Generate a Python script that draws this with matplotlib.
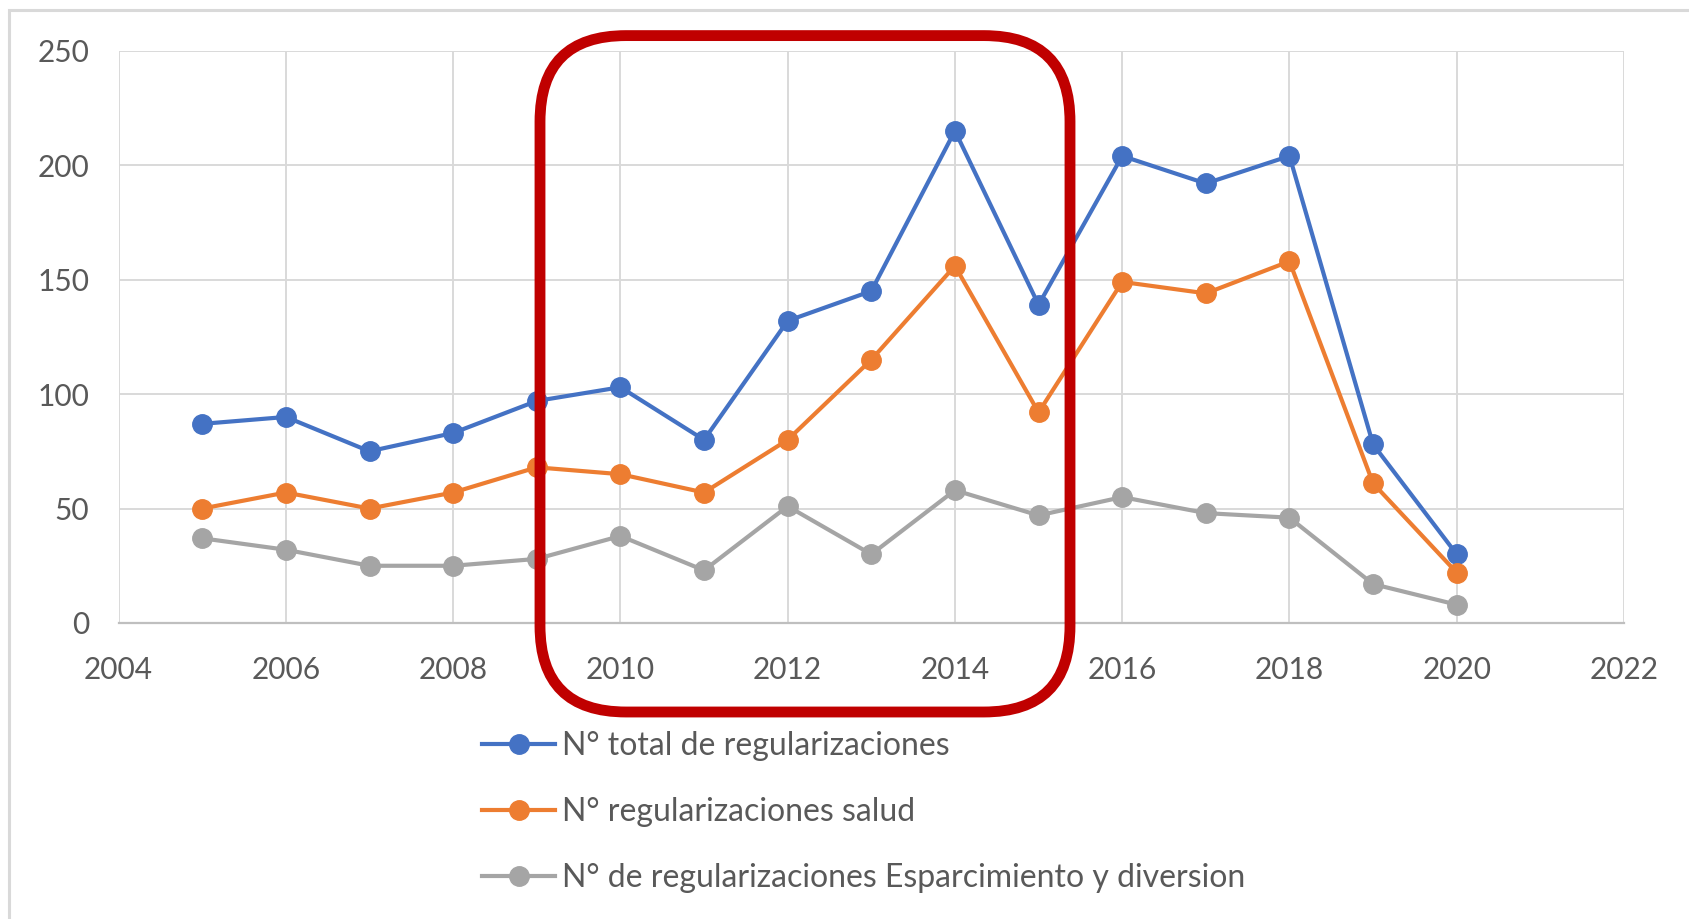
import matplotlib
matplotlib.use("Agg")
import matplotlib.pyplot as plt
from matplotlib.patches import FancyBboxPatch, Rectangle
from matplotlib.lines import Line2D

years = [2005, 2006, 2007, 2008, 2009, 2010, 2011, 2012, 2013, 2014, 2015, 2016, 2017, 2018, 2019, 2020]
total = [87, 90, 75, 83, 97, 103, 80, 132, 145, 215, 139, 204, 192, 204, 78, 30]
salud = [50, 57, 50, 57, 68, 65, 57, 80, 115, 156, 92, 149, 144, 158, 61, 22]
espar = [37, 32, 25, 25, 28, 38, 23, 51, 30, 58, 47, 55, 48, 46, 17, 8]
labels = ["N° total de regularizaciones", "N° regularizaciones salud",
          "N° de regularizaciones Esparcimiento y diversion"]
colors = ["#4472C4", "#ED7D31", "#A5A5A5"]
xticks = [2004, 2006, 2008, 2010, 2012, 2014, 2016, 2018, 2020, 2022]
yticks = [0, 50, 100, 150, 200, 250]

plt.rcParams['font.family'] = ['Lato', 'DejaVu Sans']
W, H = 1690, 919
fig = plt.figure(figsize=(W / 100, H / 100), dpi=100)
ax = fig.add_axes([118.6 / W, 1 - 623 / H, (1624 - 118.6) / W, (623 - 50.7) / H])

for ys, c in zip([total, salud, espar], colors):
    ax.plot(years, ys, color=c, lw=3.0, marker='o', ms=14, zorder=3)

ax.set_xlim(2004, 2022)
ax.set_ylim(0, 250)
ax.set_xticks(xticks)
ax.set_yticks(yticks)
ax.grid(True, color='#D9D9D9', lw=1.4)
for s in ['top', 'right', 'left']:
    ax.spines[s].set_visible(False)
ax.spines['bottom'].set_color('#BFBFBF')
ax.spines['bottom'].set_linewidth(1.6)
ax.tick_params(length=0, labelsize=21.5, labelcolor='#595959')
ax.tick_params(axis='x', pad=24)
ax.tick_params(axis='y', pad=21)

# outer chart border
fig.patches.append(Rectangle((9 / W, -0.05), 1.2, 1 - 10 / H + 0.05, transform=fig.transFigure,
                             fill=False, ec='#D9D9D9', lw=2.2, zorder=0))

# red highlight box
x0, x1, y0, y1 = 540, 1070, 35.6, 712
box = FancyBboxPatch((x0, H - y1), x1 - x0, y1 - y0,
                     boxstyle="round,pad=0,rounding_size=86",
                     transform=None, fill=False, ec='#C00000', lw=7.8, zorder=10)
fig.patches.append(box)

handles = [Line2D([0], [0], color=c, lw=3.0, marker='o', ms=14) for c in colors]
fig.legend(handles, labels, loc='upper left', bbox_to_anchor=(482 / W, 1 - 731 / H),
           frameon=False, borderpad=0, borderaxespad=0, handlelength=2.3,
           handletextpad=0.2, labelspacing=1.13, fontsize=23, labelcolor='#595959')

fig.savefig("out.png", dpi=100)
